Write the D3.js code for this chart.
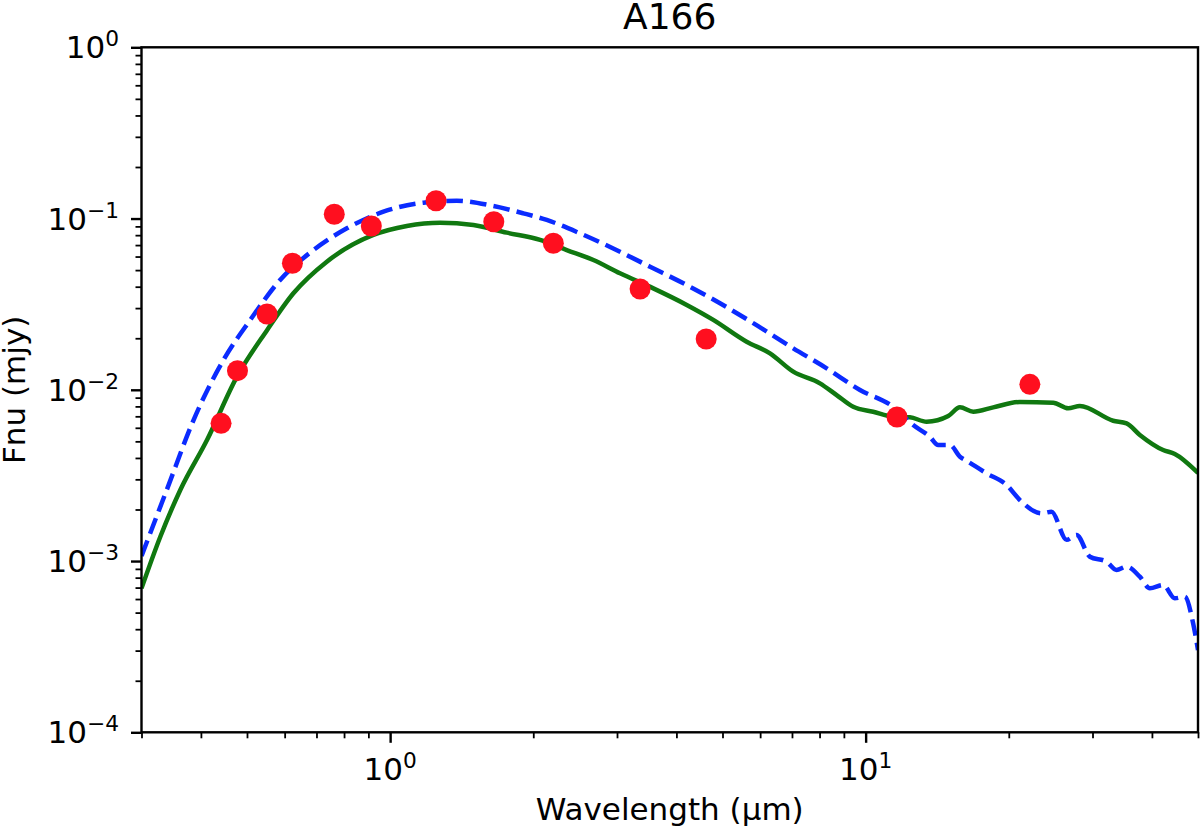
<!DOCTYPE html>
<html>
<head>
<meta charset="utf-8">
<script src="https://cdn.jsdelivr.net/npm/d3@7"></script>
<style>
body { margin: 0; background: #fff; }
text { font-family: "DejaVu Sans", sans-serif; fill: #000; }
</style>
</head>
<body>
<script>
// observed photometry (red dots)
photWave = [0.441, 0.4775, 0.551, 0.623, 0.763, 0.913, 1.249, 1.652, 2.204, 3.355, 4.62, 11.64, 22.15]
photFlux = [0.00637, 0.01294, 0.0277, 0.0548, 0.1059, 0.0905, 0.127, 0.0958, 0.0717, 0.0388, 0.0198, 0.00694, 0.01076]

// green solid model
modelWave = [0.3, 0.3286, 0.362, 0.412, 0.476, 0.551, 0.626, 0.736, 0.922, 1.084, 1.274, 1.497, 1.759,
  2.067, 2.352, 2.676, 3.044, 3.577, 4.205, 4.782, 5.62, 6.293, 7.044, 8.015, 8.69, 9.417, 10.37,
  11.43, 12.39, 13.44, 14.92, 15.79, 16.84, 18.55, 21.11, 24.80, 26.67, 28.22, 33.15, 35.38,
  37.73, 42.23, 44.69, 50]
modelFlux = [6.93e-4, 1.387e-3, 2.60e-3, 5.09e-3, 0.0119, 0.0223, 0.0366, 0.0560, 0.0802, 0.0905,
  0.0946, 0.0917, 0.0827, 0.0750, 0.0655, 0.0573, 0.0479, 0.0391, 0.0313, 0.0256, 0.0191, 0.01633,
  0.01276, 0.01091, 0.00932, 0.00796, 0.00745, 0.00697, 0.00691, 0.00651, 0.00703, 0.00790,
  0.00745, 0.00790, 0.00849, 0.00841, 0.00780, 0.00804, 0.00660, 0.00637, 0.00545, 0.00445,
  0.00422, 0.00327]

// blue dashed model
starWave = [0.3, 0.339, 0.386, 0.446, 0.508, 0.587, 0.690, 0.811, 0.968, 1.175, 1.381, 1.649, 1.906,
  2.135, 2.508, 3.044, 3.521, 4.205, 4.940, 5.803, 7.044, 8.28, 9.73, 11.43, 12.59, 13.65, 14.21,
  15.04, 15.79, 16.31, 17.97, 19.79, 21.11, 23.44, 24.60, 26.46, 27.77, 29.62, 32.11, 33.70,
  35.38, 37.73, 39.60, 42.23, 44.69, 46.91, 48.83, 50]
starFlux = [1.07e-3, 2.60e-3, 6.66e-3, 0.0149, 0.0256, 0.0438, 0.0655, 0.0877, 0.1096, 0.1238,
  0.1271, 0.1184, 0.1073, 0.0981, 0.0820, 0.0640, 0.0523, 0.0409, 0.0320, 0.0245, 0.01747,
  0.01335, 0.00997, 0.00796, 0.00623, 0.00532, 0.00476, 0.00476, 0.00407, 0.00385, 0.00325,
  0.00278, 0.00227, 0.00190, 0.00194, 0.00133, 0.00142, 0.00106, 9.91e-4, 8.87e-4, 9.27e-4,
  8.10e-4, 6.93e-4, 7.25e-4, 6.06e-4, 6.19e-4, 4.33e-4, 3.02e-4]

xMajor = [1, 10]
xTickExp = ["0", "1"]
yMajor = [1, 0.1, 0.01, 0.001, 0.0001]
yTickExp = ["0", "\u22121", "\u22122", "\u22123", "\u22124"]

width = 1200
height = 831
plotL = 141.5
plotR = 1198
plotT = 47.3
plotB = 732.3
labelSize = 31

x = d3.scaleLog().domain([0.3, 50]).range([plotL, plotR])
y = d3.scaleLog().domain([1e-4, 1]).range([plotB, plotT])

svg = d3.select("body")
    .append("svg")
    .attr("width", width)
    .attr("height", height)

svg.append("clipPath")
    .attr("id", "plotclip")
    .append("rect")
    .attr("x", plotL)
    .attr("y", plotT)
    .attr("width", plotR - plotL)
    .attr("height", plotB - plotT)

// ticks: minor first, then major
minorX = x.ticks().filter(function(v) { return xMajor.indexOf(v) < 0 })
minorY = y.ticks().filter(function(v) { return yMajor.indexOf(v) < 0 })

function styleAxis(g) {
    g.select(".domain").remove()
    g.selectAll("line").attr("stroke", "#000")
    g.selectAll("text").remove()
}

svg.append("g")
    .attr("transform", "translate(0," + plotB + ")")
    .call(d3.axisBottom(x).tickValues(minorX).tickSize(6).tickFormat(""))
    .call(styleAxis)
    .selectAll("line").attr("stroke-width", 1.8)
svg.append("g")
    .attr("transform", "translate(0," + plotB + ")")
    .call(d3.axisBottom(x).tickValues(xMajor).tickSize(10.5).tickFormat(""))
    .call(styleAxis)
    .selectAll("line").attr("stroke-width", 2.4)
svg.append("g")
    .attr("transform", "translate(" + plotL + ",0)")
    .call(d3.axisLeft(y).tickValues(minorY).tickSize(6).tickFormat(""))
    .call(styleAxis)
    .selectAll("line").attr("stroke-width", 1.8)
svg.append("g")
    .attr("transform", "translate(" + plotL + ",0)")
    .call(d3.axisLeft(y).tickValues(yMajor).tickSize(10.5).tickFormat(""))
    .call(styleAxis)
    .selectAll("line").attr("stroke-width", 2.4)

// tick labels as 10^n
xl = svg.selectAll("text.xtick")
    .data(xMajor)
    .enter()
    .append("text")
    .attr("class", "xtick")
    .attr("x", function(d) { return x(d) })
    .attr("y", 780)
    .attr("text-anchor", "middle")
    .attr("font-size", labelSize)
xl.append("tspan").text("10")
xl.append("tspan").attr("dy", -12).attr("font-size", labelSize * 0.7).text(function(d, i) { return xTickExp[i] })

yl = svg.selectAll("text.ytick")
    .data(yMajor)
    .enter()
    .append("text")
    .attr("class", "ytick")
    .attr("x", 119)
    .attr("y", function(d) { return y(d) + 11 })
    .attr("text-anchor", "end")
    .attr("font-size", labelSize)
yl.append("tspan").text("10")
yl.append("tspan").attr("dy", -12).attr("font-size", labelSize * 0.7).text(function(d, i) { return yTickExp[i] })

plot = svg.append("g").attr("clip-path", "url(#plotclip)")

line = d3.line()
    .curve(d3.curveMonotoneX)
    .x(function(d) { return x(d[0]) })
    .y(function(d) { return y(d[1]) })

plot.append("path")
    .datum(d3.zip(modelWave, modelFlux))
    .attr("d", line)
    .attr("fill", "none")
    .attr("stroke", "#107810")
    .attr("stroke-width", 4.5)
    .attr("stroke-linejoin", "round")

plot.append("path")
    .datum(d3.zip(starWave, starFlux))
    .attr("d", line)
    .attr("fill", "none")
    .attr("stroke", "#0b2bff")
    .attr("stroke-width", 4.5)
    .attr("stroke-dasharray", "16.6,7.2")
    .attr("stroke-linejoin", "round")

plot.selectAll("circle")
    .data(d3.zip(photWave, photFlux))
    .enter()
    .append("circle")
    .attr("cx", function(d) { return x(d[0]) })
    .attr("cy", function(d) { return y(d[1]) })
    .attr("r", 10.5)
    .attr("fill", "#ff0f1f")

// frame
svg.append("rect")
    .attr("x", plotL)
    .attr("y", plotT)
    .attr("width", plotR - plotL)
    .attr("height", plotB - plotT)
    .attr("fill", "none")
    .attr("stroke", "#000")
    .attr("stroke-width", 2.4)

svg.append("text")
    .attr("x", (plotL + plotR) / 2)
    .attr("y", 29)
    .attr("text-anchor", "middle")
    .attr("font-size", 36)
    .text("A166")

svg.append("text")
    .attr("x", (plotL + plotR) / 2)
    .attr("y", 820)
    .attr("text-anchor", "middle")
    .attr("font-size", labelSize)
    .text("Wavelength (\u00b5m)")

svg.append("text")
    .attr("transform", "translate(25," + ((plotT + plotB) / 2) + ") rotate(-90)")
    .attr("text-anchor", "middle")
    .attr("font-size", labelSize)
    .text("Fnu (mjy)")
</script>
</body>
</html>
